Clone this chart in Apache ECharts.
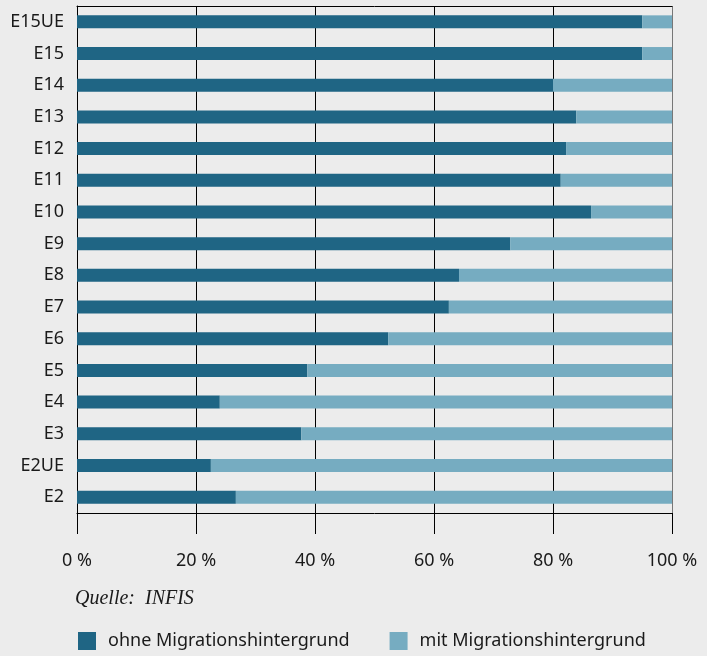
<!DOCTYPE html>
<html>
<head>
<meta charset="utf-8">
<script src="https://cdn.jsdelivr.net/npm/echarts@6/dist/echarts.min.js"></script>
<style>
  html, body { margin: 0; padding: 0; background: #ececec; }
  #chart { width: 707px; height: 656px; }
</style>
</head>
<body>
<div id="chart"></div>
<script>
// categories from bottom to top
var categories = ['E2', 'E2UE', 'E3', 'E4', 'E5', 'E6', 'E7', 'E8', 'E9', 'E10', 'E11', 'E12', 'E13', 'E14', 'E15', 'E15UE']
var ohneMigration = [26.7, 22.5, 37.7, 24.0, 38.7, 52.3, 62.5, 64.2, 72.8, 86.4, 81.3, 82.2, 83.9, 80.0, 95.0, 95.0]
var mitMigration = [73.3, 77.5, 62.3, 76.0, 61.3, 47.7, 37.5, 35.8, 27.2, 13.6, 18.7, 17.8, 16.1, 20.0, 5.0, 5.0]
var seriesNames = ['ohne Migrationshintergrund', 'mit Migrationshintergrund']
var colors = ['#1f6584', '#76acc1']

var font = 'Noto Sans'
var chart = echarts.init(document.getElementById('chart'))
chart.setOption({
  backgroundColor: '#ececec',
  animation: false,
  color: colors,
  grid: {
    left: 77,
    right: 35,
    top: 6,
    bottom: 143
  },
  legend: {
    left: 78,
    top: 632,
    padding: 0,
    itemWidth: 18,
    itemHeight: 18,
    itemGap: 40,
    icon: 'rect',
    textStyle: {
      fontFamily: font,
      fontSize: 18,
      color: '#1a1a1a',
      padding: [0, 0, 0, 7]
    },
    data: seriesNames
  },
  graphic: [{
    type: 'text',
    left: 75,
    top: 589,
    style: {
      text: 'Quelle:  INFIS',
      font: 'italic 20px "Liberation Serif", "DejaVu Serif", serif',
      fill: '#1a1a1a'
    }
  }],
  xAxis: [{
    type: 'value',
    min: 0,
    max: 100,
    interval: 20,
    position: 'bottom',
    axisLine: { show: true, lineStyle: { color: '#000', width: 1 } },
    axisTick: { show: true, length: 21, lineStyle: { color: '#000' } },
    axisLabel: {
      formatter: '{value} %',
      margin: 39,
      fontFamily: font,
      fontSize: 18,
      color: '#1a1a1a'
    },
    splitLine: {
      show: true,
      lineStyle: { color: ['#000', '#000', '#000', '#000', '#000', '#777'], width: 1 }
    }
  }, {
    type: 'value',
    min: 0,
    max: 100,
    interval: 20,
    position: 'top',
    axisLine: { show: true, lineStyle: { color: '#000', width: 1 } },
    axisTick: { show: false },
    axisLabel: { show: false },
    splitLine: { show: false }
  }],
  yAxis: {
    type: 'category',
    data: categories,
    axisLine: { show: true, lineStyle: { color: '#000' } },
    axisTick: { show: false },
    axisLabel: {
      margin: 13,
      fontFamily: font,
      fontSize: 18,
      color: '#1a1a1a'
    }
  },
  series: [{
    name: seriesNames[0],
    type: 'bar',
    stack: 'total',
    barWidth: 13,
    data: ohneMigration
  }, {
    name: seriesNames[1],
    type: 'bar',
    stack: 'total',
    barWidth: 13,
    data: mitMigration
  }]
})
</script>
</body>
</html>
